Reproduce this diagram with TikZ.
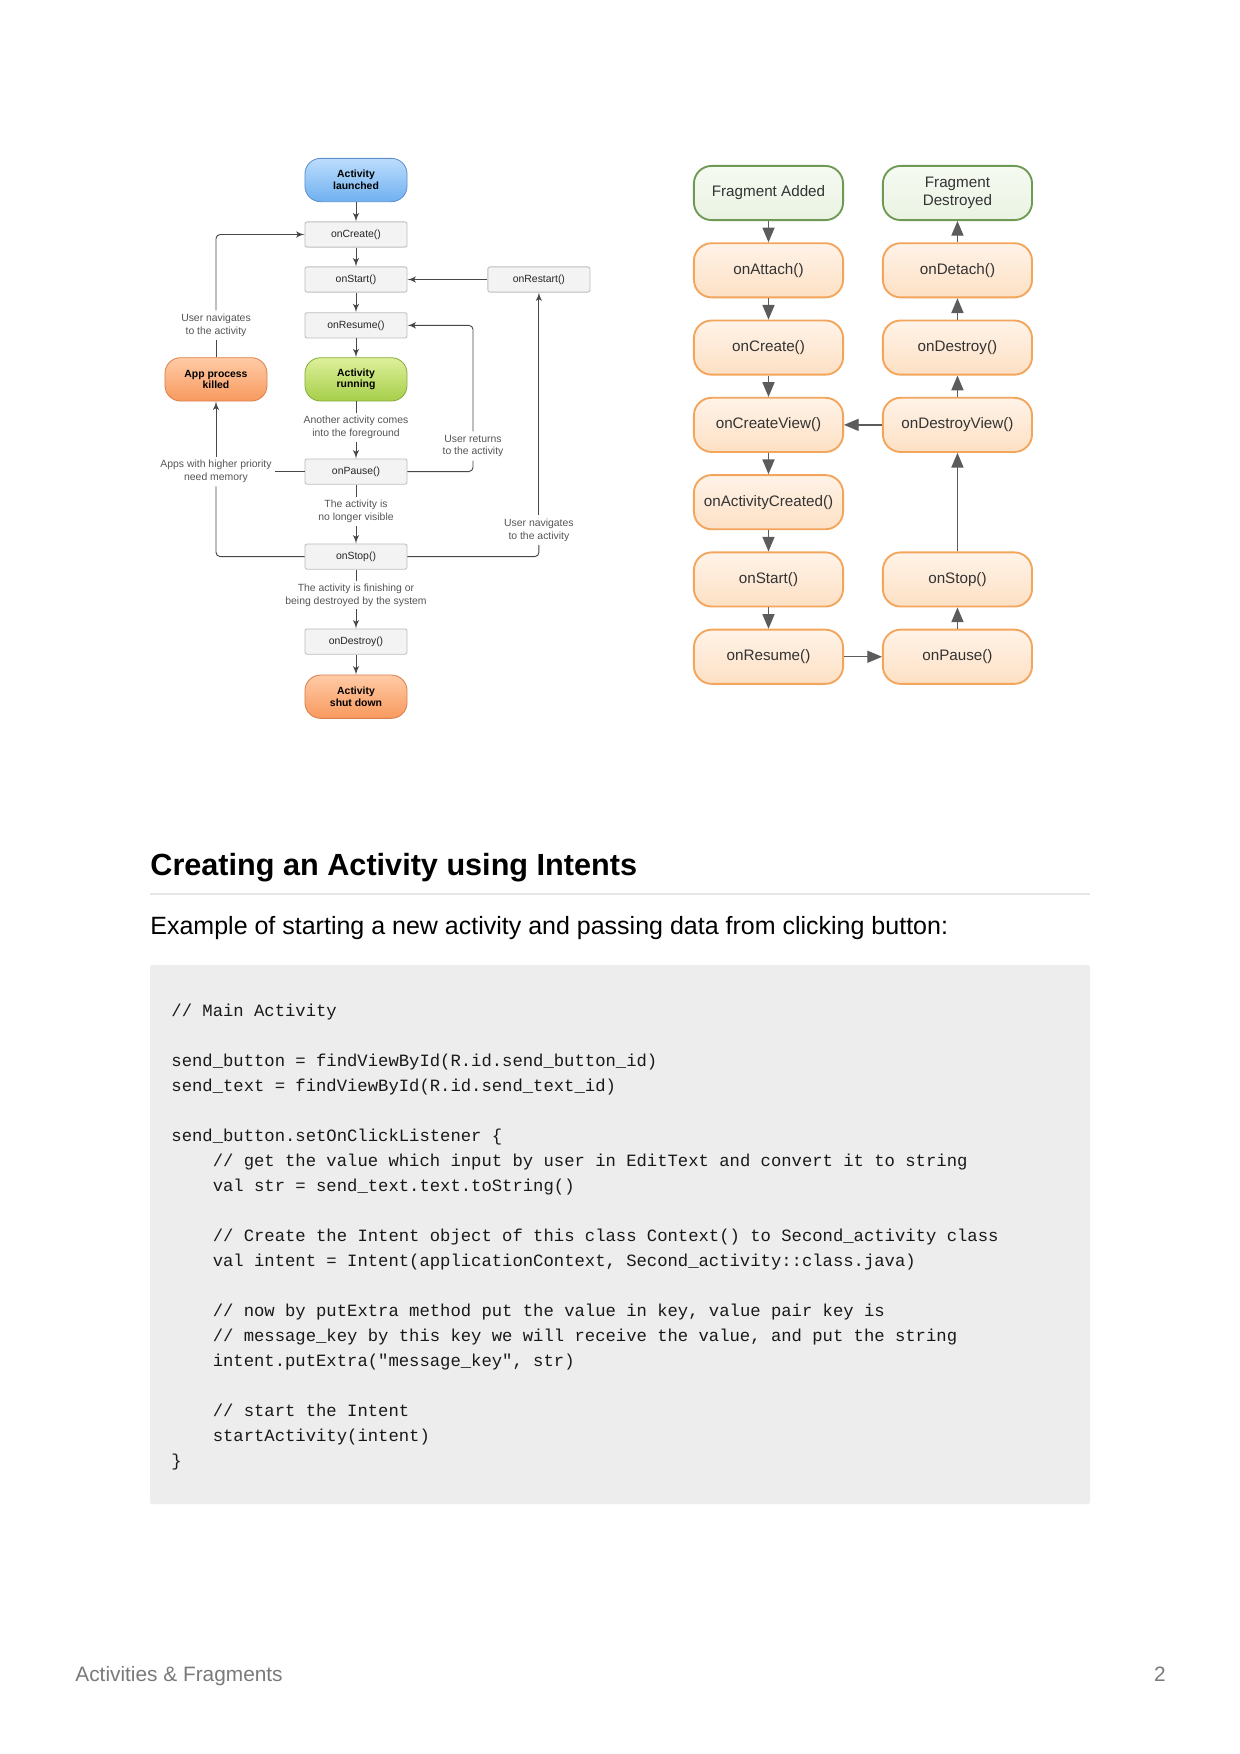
\documentclass[tikz,border=0pt]{standalone}
\usepackage{fontspec}
\setmainfont{Liberation Sans}
\setmonofont{Liberation Mono}
\usetikzlibrary{arrows,positioning}

\definecolor{boxgray}{HTML}{F3F3F3}
\definecolor{boxline}{HTML}{BDBDBD}
\definecolor{flowgray}{HTML}{474747}
\definecolor{notegray}{HTML}{555555}
\definecolor{bluetop}{HTML}{BCDDFD}
\definecolor{bluebot}{HTML}{70B0F0}
\definecolor{blueline}{HTML}{5F8FCF}
\definecolor{greentop}{HTML}{DDF09A}
\definecolor{greenbot}{HTML}{A6CE4A}
\definecolor{greenline}{HTML}{88AE3E}
\definecolor{orangetop}{HTML}{FFCBA6}
\definecolor{orangebot}{HTML}{F8995E}
\definecolor{orangeline}{HTML}{D9804E}
\definecolor{fragtop}{HTML}{FFF3E8}
\definecolor{fragbot}{HTML}{FDE0C4}
\definecolor{fragline}{HTML}{F3A55B}
\definecolor{addtop}{HTML}{F6FAF2}
\definecolor{addbot}{HTML}{EAF3E2}
\definecolor{addline}{HTML}{6E9A55}
\definecolor{fragarrow}{HTML}{5C5C5C}
\definecolor{codebg}{HTML}{EDEDED}
\definecolor{rulegray}{HTML}{E6E6E6}
\definecolor{footgray}{HTML}{7A7A7A}

\begin{document}
\begin{tikzpicture}[
  x=0.48pt,y=-0.48pt,
  callback/.style={draw=boxline,fill=boxgray,line width=0.4pt,rounded corners=1pt,minimum width=49pt,minimum height=12.1pt,inner sep=1pt,text=black!85,font=\fontsize{5}{5.6}\selectfont},
  lifestate/.style={draw=#1line,top color=#1top,bottom color=#1bot,line width=0.4pt,rounded corners=7.5pt,minimum width=49pt,minimum height=20.8pt,inner sep=1pt,align=center,font=\fontsize{5}{5.6}\selectfont\bfseries},
  note/.style={text=notegray,align=center,inner sep=1.5pt,font=\fontsize{5}{6.2}\selectfont},
  flow/.style={draw=flowgray,line width=0.45pt,-latex'},
  link/.style={draw=flowgray,line width=0.45pt,rounded corners=2pt},
  frag/.style={draw=#1line,top color=#1top,bottom color=#1bot,line width=0.9pt,rounded corners=8.5pt,minimum width=71.6pt,minimum height=26pt,inner sep=1pt,align=center,text=black!80,font=\fontsize{7.3}{8.4}\selectfont},
  frag/.default=frag,
  fragflow/.style={draw=fragarrow,fill=fragarrow,line width=0.6pt,-triangle 45}
]
  \useasboundingbox (0,0) rectangle (1240,1754);
  \fill[white] (0,0) rectangle (1240,1754);

  % activity lifecycle
  \node[lifestate=blue] (launched) at (356,180) {Activity\\launched};
  \node[callback,below=9.3pt of launched] (create) {onCreate()};
  \node[callback,below=9.1pt of create] (start) {onStart()};
  \node[callback,below=9.5pt of start] (resume) {onResume()};
  \node[lifestate=green,below=9.1pt of resume] (running) {Activity\\running};
  \node[callback,below=27.4pt of running] (pause) {onPause()};
  \node[callback,below=28.3pt of pause] (stop) {onStop()};
  \node[callback,below=28.3pt of stop] (destroy) {onDestroy()};
  \node[lifestate=orange,below=9.6pt of destroy] (shutdown) {Activity\\shut down};
  \node[callback,right=38.4pt of start] (restart) {onRestart()};
  \node[lifestate=orange,left=17.8pt of running] (killed) {App process\\killed};

  \node[note] (navback) at (killed |- resume) {User navigates\\to the activity};
  \node[note] (lowmem) at (killed |- pause) {Apps with higher priority\\need memory};
  \node[note] (returns) at (473,446) {User returns\\to the activity};
  \node[note] (navagain) at (restart |- 0,530) {User navigates\\to the activity};

  \draw[flow] (launched) -- (create);
  \draw[flow] (create) -- (start);
  \draw[flow] (start) -- (resume);
  \draw[flow] (resume) -- (running);
  \draw[flow] (running) -- node[note,fill=white,pos=0.45] (foreground) {Another activity comes\\into the foreground} (pause);
  \draw[flow] (pause) -- node[note,fill=white,pos=0.45] (hidden) {The activity is\\no longer visible} (stop);
  \draw[flow] (stop) -- node[note,fill=white,pos=0.43] (finishing) {The activity is finishing or\\being destroyed by the system} (destroy);
  \draw[flow] (destroy) -- (shutdown);
  \draw[flow] (restart) -- (start);
  \draw[link] (killed) -- (navback);
  \draw[flow,rounded corners=2pt] (navback) |- (create);
  \draw[link] (pause) -- (lowmem);
  \draw[flow] (lowmem) -- (killed);
  \draw[link] (stop) -| (lowmem);
  \draw[link] (pause) -| (returns);
  \draw[flow,rounded corners=2pt] (returns) |- (resume);
  \draw[link] (stop) -| (navagain);
  \draw[flow] (navagain) -- (restart);

  % fragment lifecycle
  \node[frag=add] (added) at (768.5,193) {Fragment Added};
  \node[frag,below=10.2pt of added] (attach) {onAttach()};
  \node[frag,below=10.2pt of attach] (fcreate) {onCreate()};
  \node[frag,below=10.2pt of fcreate] (createview) {onCreateView()};
  \node[frag,below=10.2pt of createview] (actcreated) {onActivityCreated()};
  \node[frag,below=10.2pt of actcreated] (fstart) {onStart()};
  \node[frag,below=10.2pt of fstart] (fresume) {onResume()};
  \node[frag=add,right=18.2pt of added] (destroyed) {Fragment\\Destroyed};
  \node[frag,right=18.2pt of attach] (detach) {onDetach()};
  \node[frag,right=18.2pt of fcreate] (fdestroy) {onDestroy()};
  \node[frag,right=18.2pt of createview] (destroyview) {onDestroyView()};
  \node[frag,right=18.2pt of fstart] (fstop) {onStop()};
  \node[frag,right=18.2pt of fresume] (fpause) {onPause()};

  \draw[fragflow] (added) -- (attach);
  \draw[fragflow] (attach) -- (fcreate);
  \draw[fragflow] (fcreate) -- (createview);
  \draw[fragflow] (createview) -- (actcreated);
  \draw[fragflow] (actcreated) -- (fstart);
  \draw[fragflow] (fstart) -- (fresume);
  \draw[fragflow] (fresume) -- (fpause);
  \draw[fragflow] (fpause) -- (fstop);
  \draw[fragflow] (fstop) -- (destroyview);
  \draw[fragflow] (destroyview) -- (createview);
  \draw[fragflow] (destroyview) -- (fdestroy);
  \draw[fragflow] (fdestroy) -- (detach);
  \draw[fragflow] (detach) -- (destroyed);

  % page text
  \node[anchor=base west,inner sep=0pt,font=\fontsize{14.7}{17}\selectfont\bfseries] (heading) at (150,875) {Creating an Activity using Intents};
  \draw[rulegray,line width=0.7pt] (150,894) -- (1090,894);
  \node[anchor=base west,inner sep=0pt,font=\fontsize{12}{14}\selectfont] (intro) at (150,934) {Example of starting a new activity and passing data from clicking button:};
  \fill[codebg,rounded corners=1pt] (150,965) rectangle (1090,1504);
  % base of a multi-line node is its last line
  \node[anchor=base west,inner sep=0pt,align=left,text=black!90,font=\ttfamily\fontsize{8.27}{12}\selectfont] (code) at (171,1466) {%
// Main Activity\\
\mbox{}\\
send\_button = findViewById(R.id.send\_button\_id)\\
send\_text = findViewById(R.id.send\_text\_id)\\
\mbox{}\\
send\_button.setOnClickListener \{\\
\phantom{xxxx}// get the value which input by user in EditText and convert it to string\\
\phantom{xxxx}val str = send\_text.text.toString()\\
\mbox{}\\
\phantom{xxxx}// Create the Intent object of this class Context() to Second\_activity class\\
\phantom{xxxx}val intent = Intent(applicationContext, Second\_activity::class.java)\\
\mbox{}\\
\phantom{xxxx}// now by putExtra method put the value in key, value pair key is\\
\phantom{xxxx}// message\_key by this key we will receive the value, and put the string\\
\phantom{xxxx}intent.putExtra("message\_key", str)\\
\mbox{}\\
\phantom{xxxx}// start the Intent\\
\phantom{xxxx}startActivity(intent)\\
\}};
  \node[anchor=base west,inner sep=0pt,text=footgray,font=\fontsize{10}{12}\selectfont] (footer) at (75,1681) {Activities \& Fragments};
  \node[anchor=base east,inner sep=0pt,text=footgray,font=\fontsize{10}{12}\selectfont] (pagenum) at (1166,1681) {2};
\end{tikzpicture}
\end{document}
